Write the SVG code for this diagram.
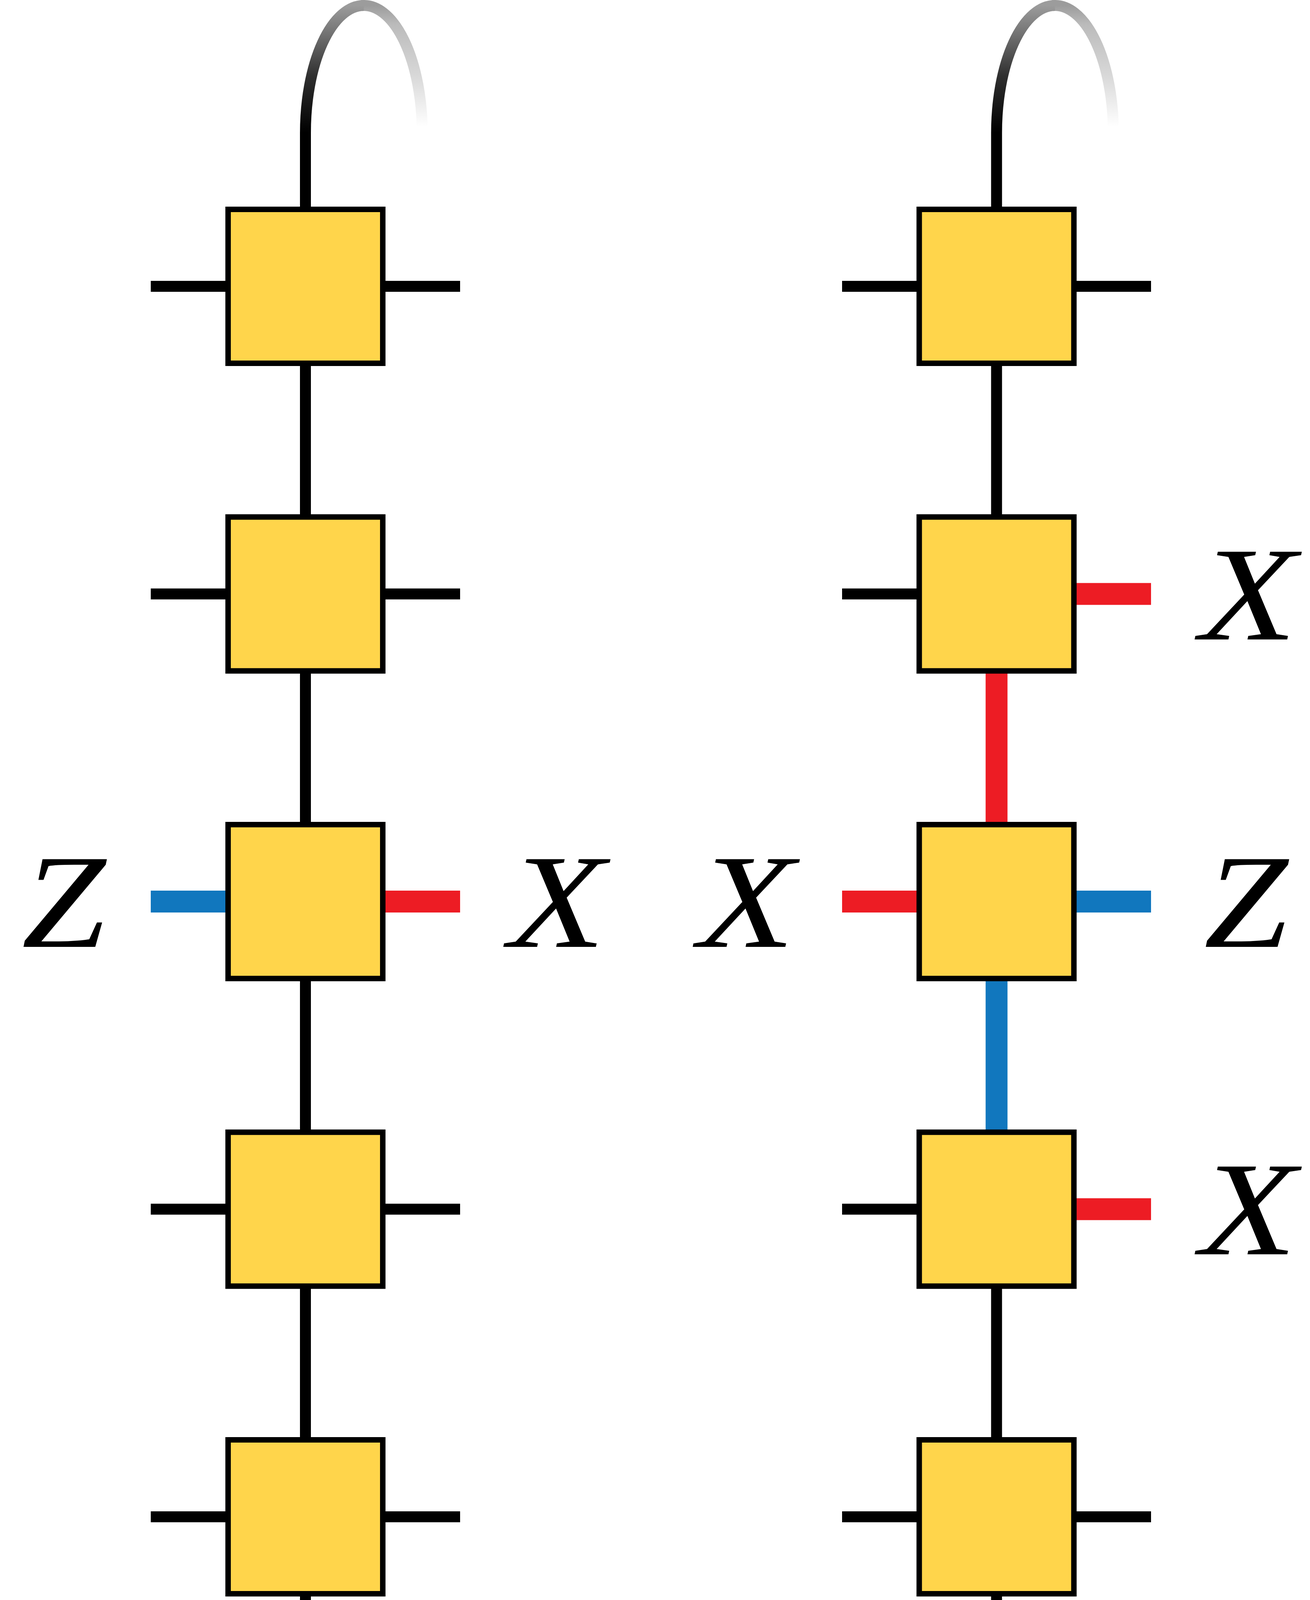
<svg xmlns="http://www.w3.org/2000/svg" width="3354" height="4618" viewBox="0 0 3354 4618">
<style>
.box{fill:#FFD54B;stroke:#000;stroke-width:14}
.w{fill:none;stroke:#000;stroke-width:28}
.r{fill:none;stroke:#ED1C24;stroke-width:56}
.b{fill:none;stroke:#1177BE;stroke-width:56}
.loop{fill:none;stroke-width:28}
.lbl{font-family:"Liberation Serif","Times New Roman",serif;font-style:italic;font-size:343px;fill:#000;text-anchor:middle}
</style>
<defs>
<linearGradient id="gTL" gradientUnits="userSpaceOnUse" x1="0" y1="340" x2="0" y2="14">
<stop offset="0" stop-color="#000"/><stop offset="0.45" stop-color="#303030"/><stop offset="0.8" stop-color="#777"/><stop offset="1" stop-color="#9c9c9c"/>
</linearGradient>
<linearGradient id="gTR" gradientUnits="userSpaceOnUse" x1="0" y1="14" x2="0" y2="340">
<stop offset="0" stop-color="#9c9c9c"/><stop offset="0.15" stop-color="#bbb"/><stop offset="0.55" stop-color="#d8d8d8"/><stop offset="0.8" stop-color="#f0f0f0"/><stop offset="0.95" stop-color="#fff"/>
</linearGradient>
<linearGradient id="gBL" gradientUnits="userSpaceOnUse" x1="0" y1="4275" x2="0" y2="4603">
<stop offset="0" stop-color="#000"/><stop offset="0.45" stop-color="#303030"/><stop offset="0.8" stop-color="#777"/><stop offset="1" stop-color="#9c9c9c"/>
</linearGradient>
<linearGradient id="gBR" gradientUnits="userSpaceOnUse" x1="0" y1="4603" x2="0" y2="4275">
<stop offset="0" stop-color="#9c9c9c"/><stop offset="0.15" stop-color="#bbb"/><stop offset="0.55" stop-color="#d8d8d8"/><stop offset="0.8" stop-color="#f0f0f0"/><stop offset="0.95" stop-color="#fff"/>
</linearGradient>
</defs>
<rect width="3354" height="4618" fill="#fff"/>
<g id="connectors">
<line class="w" x1="782" y1="340" x2="782" y2="4275"/>
<path class="loop" stroke="url(#gTR)" d="M925,14.31 A149.5,326 0 0 1 1081,340"/>
<path class="loop" stroke="url(#gTL)" d="M782,340 A149.5,326 0 0 1 931.5,14"/>
<path class="loop" stroke="url(#gBR)" d="M925,4602.69 A149.5,328 0 0 0 1081,4275"/>
<path class="loop" stroke="url(#gBL)" d="M782,4275 A149.5,328 0 0 0 931.5,4603"/>
<line class="w" x1="386" y1="733" x2="1178" y2="733"/>
<line class="w" x1="386" y1="1520.5" x2="1178" y2="1520.5"/>
<line class="b" x1="386" y1="2308" x2="782" y2="2308"/>
<line class="r" x1="782" y1="2308" x2="1178" y2="2308"/>
<line class="w" x1="386" y1="3095.5" x2="1178" y2="3095.5"/>
<line class="w" x1="386" y1="3883" x2="1178" y2="3883"/>
<line class="w" x1="2551.5" y1="340" x2="2551.5" y2="1520.5"/>
<line class="r" x1="2551.5" y1="1520.5" x2="2551.5" y2="2308"/>
<line class="b" x1="2551.5" y1="2308" x2="2551.5" y2="3095.5"/>
<line class="w" x1="2551.5" y1="3095.5" x2="2551.5" y2="4275"/>
<path class="loop" stroke="url(#gTR)" d="M2694.5,14.31 A149.5,326 0 0 1 2850.5,340"/>
<path class="loop" stroke="url(#gTL)" d="M2551.5,340 A149.5,326 0 0 1 2701,14"/>
<path class="loop" stroke="url(#gBR)" d="M2694.5,4602.69 A149.5,328 0 0 0 2850.5,4275"/>
<path class="loop" stroke="url(#gBL)" d="M2551.5,4275 A149.5,328 0 0 0 2701,4603"/>
<line class="w" x1="2156" y1="733" x2="2947" y2="733"/>
<line class="w" x1="2156" y1="1520.5" x2="2551.5" y2="1520.5"/>
<line class="r" x1="2551.5" y1="1520.5" x2="2947" y2="1520.5"/>
<line class="r" x1="2156" y1="2308" x2="2551.5" y2="2308"/>
<line class="b" x1="2551.5" y1="2308" x2="2947" y2="2308"/>
<line class="w" x1="2156" y1="3095.5" x2="2551.5" y2="3095.5"/>
<line class="r" x1="2551.5" y1="3095.5" x2="2947" y2="3095.5"/>
<line class="w" x1="2156" y1="3883" x2="2947" y2="3883"/>
</g>
<g id="L1"><rect class="box" x="584" y="536" width="396" height="394"/></g>
<g id="L2"><rect class="box" x="584" y="1323.5" width="396" height="394"/></g>
<g id="L3"><rect class="box" x="584" y="2111" width="396" height="394"/></g>
<g id="L4"><rect class="box" x="584" y="2898.5" width="396" height="394"/></g>
<g id="L5"><rect class="box" x="584" y="3686" width="396" height="394"/></g>
<g id="R1"><rect class="box" x="2353.5" y="536" width="396" height="394"/></g>
<g id="R2"><rect class="box" x="2353.5" y="1323.5" width="396" height="394"/></g>
<g id="R3"><rect class="box" x="2353.5" y="2111" width="396" height="394"/></g>
<g id="R4"><rect class="box" x="2353.5" y="2898.5" width="396" height="394"/></g>
<g id="R5"><rect class="box" x="2353.5" y="3686" width="396" height="394"/></g>
<g id="labels">
<text class="lbl" x="163" y="2424" textLength="215" lengthAdjust="spacingAndGlyphs">Z</text>
<text class="lbl" x="1426" y="2424" textLength="248" lengthAdjust="spacingAndGlyphs">X</text>
<text class="lbl" x="1911" y="2424" textLength="248" lengthAdjust="spacingAndGlyphs">X</text>
<text class="lbl" x="3190" y="2424" textLength="215" lengthAdjust="spacingAndGlyphs">Z</text>
<text class="lbl" x="3196" y="1637" textLength="248" lengthAdjust="spacingAndGlyphs">X</text>
<text class="lbl" x="3196" y="3211" textLength="248" lengthAdjust="spacingAndGlyphs">X</text>
</g>
</svg>
